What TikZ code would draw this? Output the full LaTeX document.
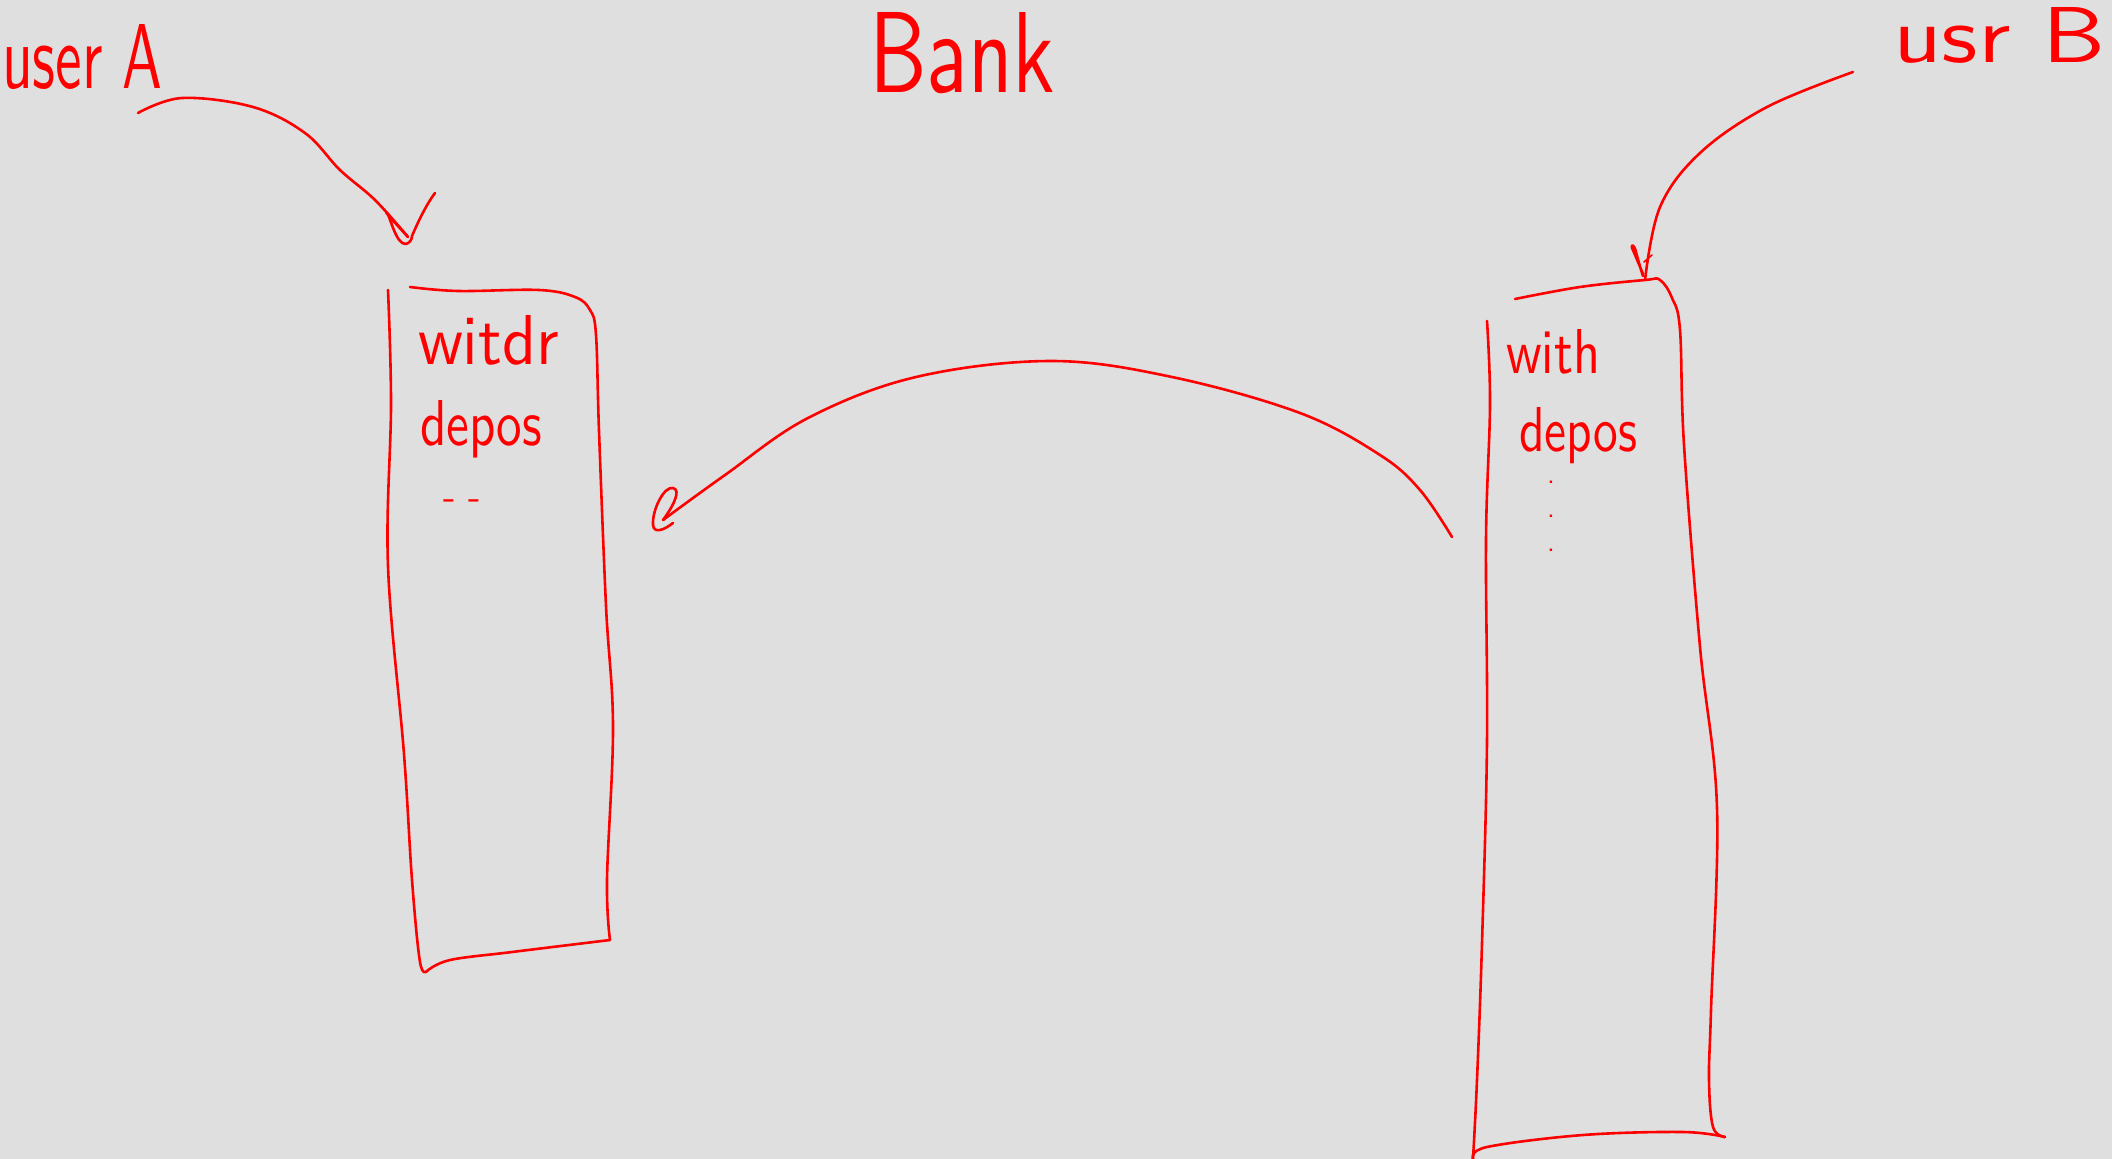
\documentclass[tikz,border=0pt]{standalone}
\usepackage{graphicx}
\definecolor{bg}{RGB}{223,223,223}
\definecolor{ink}{RGB}{255,0,0}
\tikzset{
  pen/.style={draw=ink, line width=2.6pt, line cap=round, line join=round},
  hand/.style={inner sep=0pt, outer sep=0pt, text=ink, font=\sffamily},
}
\newcommand{\hwtext}[3]{\resizebox{#1pt}{#2pt}{#3}}
\begin{document}
\begin{tikzpicture}[x=1pt,y=-1pt]
\useasboundingbox (0,0) rectangle (2112,1159);
\fill[bg] (0,0) rectangle (2112,1159);

% ---- titles ----
\node[hand, anchor=base west] (userA) at (2,88) {\hwtext{160}{64}{user A}};
\node[hand, anchor=base west] (bank) at (869,92) {\hwtext{186}{80}{Bank}};
\node[hand, anchor=base west] (userB) at (1893,62) {\hwtext{212}{55}{usr B}};

% ---- left box texts ----
\node[hand, anchor=base west] (wA) at (418,364) {\hwtext{141}{49}{witdr}};
\node[hand, anchor=base west] (dA) at (420,445) {\hwtext{122}{45}{depos}};
\node[hand, anchor=center, font=\sffamily\fontsize{40}{40}\selectfont] (mA) at (462,505) {- -};

% ---- right box texts ----
\node[hand, anchor=base west] (wB) at (1506,373) {\hwtext{94}{44}{with}};
\node[hand, anchor=base west] (dB) at (1519,451) {\hwtext{118}{44}{depos}};
\node[hand, anchor=north, align=center, font=\sffamily\fontsize{30}{34}\selectfont] (vd) at (1551,481) {.\\.\\.};

% ---- left box outline ----
\coordinate (LtopL) at (388,290);
\coordinate (LtopR) at (590,310);
\coordinate (LbotR) at (610,940);
\coordinate (LbotL) at (427,971);
\draw[pen] plot[smooth, tension=0.6] coordinates {(LtopL) (391,404) (388,566) (404,754) (412,880) (420,962) (LbotL)};
\draw[pen] plot[smooth, tension=0.6] coordinates {(410,287) (458,291) (539,290) (575,297) (LtopR) (596,335) (599,431) (606,606) (613,727) (607,880) (LbotR)};
\draw[pen] plot[smooth, tension=0.6] coordinates {(LbotR) (512,952) (450,960) (LbotL)};

% ---- right box outline ----
\coordinate (RtopM) at (1645,280);
\coordinate (RbotR) at (1725,1137);
\coordinate (RbotL) at (1473,1159);
\draw[pen] plot[smooth, tension=0.6] coordinates {(1515,299) (1580,287) (RtopM) (1660,280) (1672,298) (1680,330) (1684,445) (1700,647) (1717,808) (1711,1010) (1709,1080) (1713,1127) (RbotR)};
\draw[pen] plot[smooth, tension=0.6] coordinates {(1487,321) (1490,404) (1486,539) (1487,741) (1482,943) (1477,1080) (RbotL)};
\draw[pen] plot[smooth, tension=0.6] coordinates {(RbotL) (1487,1147) (1583,1135) (1683,1132) (RbotR)};

% ---- arrow user A -> left box ----
\coordinate (aS) at (138,113);
\coordinate (aT) at (408,237);
\draw[pen] plot[smooth, tension=0.6] coordinates {(aS) (182,98) (253,107) (305,133) (340,170) (375,200) (aT)};
\draw[pen] (aT) .. controls (398,226) and (383,210) .. (387,213)
  .. controls (390,216) and (396,245) .. (406,244)
  .. controls (410,243) and (412,239) .. (412,236)
  .. controls (418,222) and (426,205) .. (435,193);

% ---- arrow user B -> right box ----
\coordinate (bS) at (1853,72);
\draw[pen] plot[smooth, tension=0.6] coordinates {(bS) (1767,107) (1700,153) (1660,207) (RtopM)};
\draw[pen] (1643,274) .. controls (1638,262) and (1633,250) .. (1632,248)
  .. controls (1631,244) and (1634,244) .. (1636,252)
  .. controls (1638,260) and (1641,270) .. (1643,276);
\draw[pen, line width=1.6pt] (1644,262) -- (1652,255);

% ---- middle arrow: right box -> left box ----
\coordinate (mS) at (1452,537);
\coordinate (mT) at (663,520);
\draw[pen] plot[smooth, tension=0.6] coordinates {(mS) (1420,490) (1380,455) (1300,413) (1172,377) (1051,361) (916,377) (808,418) (725,475) (mT)};
\draw[pen] (mT) .. controls (672,508) and (682,490) .. (673,488)
  .. controls (664,486) and (652,510) .. (653,525)
  .. controls (654,534) and (664,530) .. (673,523);
\end{tikzpicture}
\end{document}
